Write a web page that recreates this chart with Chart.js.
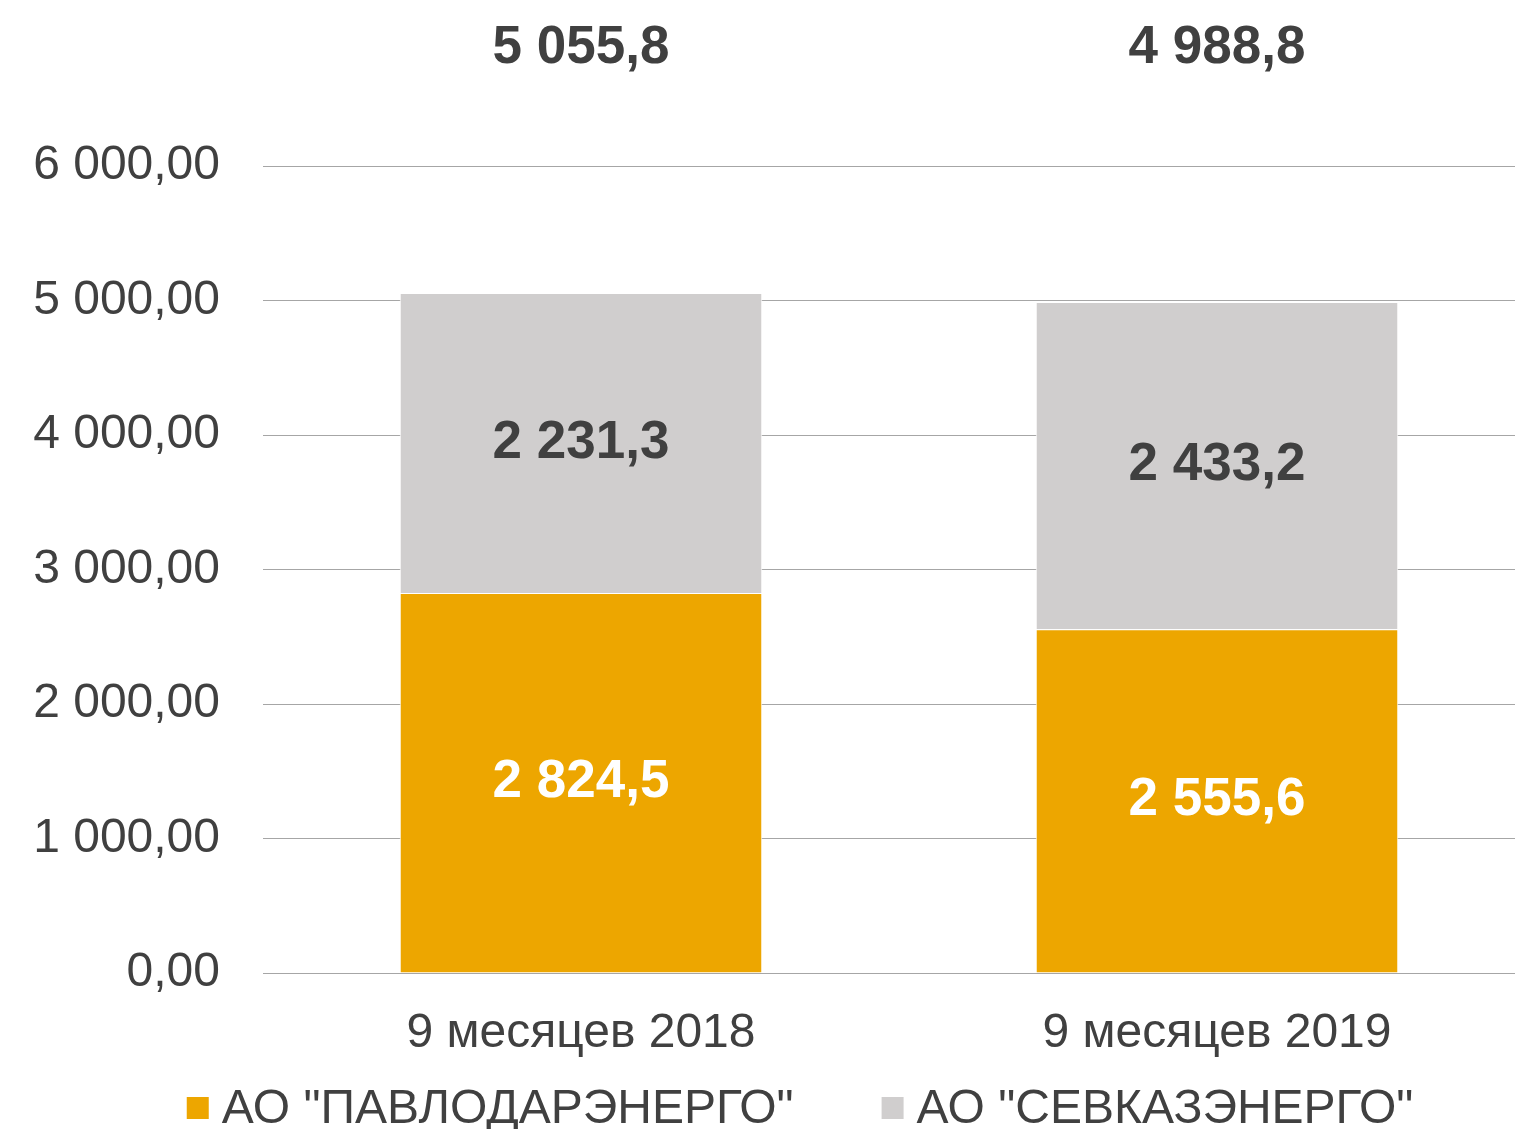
<!DOCTYPE html>
<html>
<head>
<meta charset="utf-8">
<script src="https://cdn.jsdelivr.net/npm/chart.js@4.4.0/dist/chart.umd.min.js"></script>
<style>
  html, body { margin: 0; padding: 0; background: #fff; overflow: hidden; }
  #wrap { position: absolute; left: 0; top: 0; width: 1600px; height: 1129px; }
</style>
</head>
<body>
<div id="wrap"><canvas id="chart"></canvas></div>
<script>
// chart data
const categories = ["9 месяцев 2018", "9 месяцев 2019"];
const seriesNames = ['АО "ПАВЛОДАРЭНЕРГО"', 'АО "СЕВКАЗЭНЕРГО"'];
const pavlodarValues = [2824.5, 2555.6];
const sevkazValues = [2231.3, 2433.2];
const totals = [5055.8, 4988.8];
const yTicks = [0, 1000, 2000, 3000, 4000, 5000, 6000];

const FONT = "'Liberation Sans', Arial, sans-serif";
const TEXT = "#404040";

// "2824.5" -> "2 824,5"
function fmt(v, dec) {
  const parts = v.toFixed(dec).split(".");
  const int = parts[0].replace(/\B(?=(\d{3})+(?!\d))/g, " ");
  return parts[1] ? int + "," + parts[1] : int;
}

// value labels inside bars, totals on top, and the legend row at the bottom
const labelPlugin = {
  id: "barLabels",
  afterDatasetsDraw(chart) {
    const ctx = chart.ctx;
    ctx.save();
    ctx.textAlign = "center";
    ctx.textBaseline = "middle";
    ctx.font = "bold 53px " + FONT;
    const labelColors = ["#ffffff", TEXT];
    chart.data.datasets.forEach((ds, di) => {
      const meta = chart.getDatasetMeta(di);
      meta.data.forEach((bar, i) => {
        ctx.fillStyle = labelColors[di];
        ctx.fillText(fmt(ds.data[i], 1), bar.x, (bar.y + bar.base) / 2);
      });
    });
    const xScale = chart.scales.x;
    ctx.fillStyle = TEXT;
    totals.forEach((t, i) => {
      ctx.fillText(fmt(t, 1), xScale.getPixelForValue(i), 48);
    });

    // legend (the built-in one can't keep wide item spacing with a short row)
    ctx.font = "48px " + FONT;
    ctx.textAlign = "left";
    const box = 22, boxGap = 13, itemGap = 88, legendY = 1108;
    const items = chart.data.datasets.map(ds => ({
      label: ds.label,
      color: ds.backgroundColor,
      w: box + boxGap + ctx.measureText(ds.label).width
    }));
    const totalW = items.reduce((s, it) => s + it.w, 0) + itemGap * (items.length - 1);
    let x = 800 - totalW / 2;
    items.forEach(it => {
      ctx.fillStyle = it.color;
      ctx.fillRect(x, legendY - box / 2, box, box);
      ctx.fillStyle = TEXT;
      ctx.fillText(it.label, x + box + boxGap, legendY + 2);
      x += it.w + itemGap;
    });
    ctx.restore();
  }
};

const ctx = document.getElementById("chart").getContext("2d");
new Chart(ctx, {
  type: "bar",
  data: {
    labels: categories,
    datasets: [
      {
        label: seriesNames[0],
        data: pavlodarValues,
        backgroundColor: "#EDA600",
        borderColor: "#ffffff",
        borderWidth: 1,
        categoryPercentage: 1,
        barPercentage: 0.57
      },
      {
        label: seriesNames[1],
        data: sevkazValues,
        backgroundColor: "#D0CECE",
        borderColor: "#ffffff",
        borderWidth: 1,
        categoryPercentage: 1,
        barPercentage: 0.57
      }
    ]
  },
  options: {
    responsive: true,
    maintainAspectRatio: false,
    animation: false,
    layout: { padding: { top: 166, left: 0, right: 0, bottom: 68 } },
    plugins: {
      tooltip: { enabled: false },
      legend: { display: false }
    },
    scales: {
      x: {
        stacked: true,
        afterFit(scale) { scale.height = 88; },
        grid: { display: false, drawTicks: false },
        border: { display: false },
        ticks: {
          color: TEXT,
          font: { family: FONT, size: 48 },
          padding: 32
        }
      },
      y: {
        stacked: true,
        min: 0,
        max: 6000,
        afterFit(scale) { scale.width = 263; },
        afterBuildTicks(scale) { scale.ticks = yTicks.map(v => ({ value: v })); },
        grid: { color: "#A6A6A6", lineWidth: 1, drawTicks: false },
        border: { display: false },
        ticks: {
          color: TEXT,
          font: { family: FONT, size: 48 },
          padding: 43,
          callback: v => fmt(v, 2)
        }
      },
      // empty axis on the right, keeps room so the plot runs past the crop
      yRight: {
        position: "right",
        display: true,
        afterFit(scale) { scale.width = 65; },
        grid: { display: false },
        border: { display: false },
        ticks: { display: false }
      }
    }
  },
  plugins: [labelPlugin]
});
</script>
</body>
</html>
